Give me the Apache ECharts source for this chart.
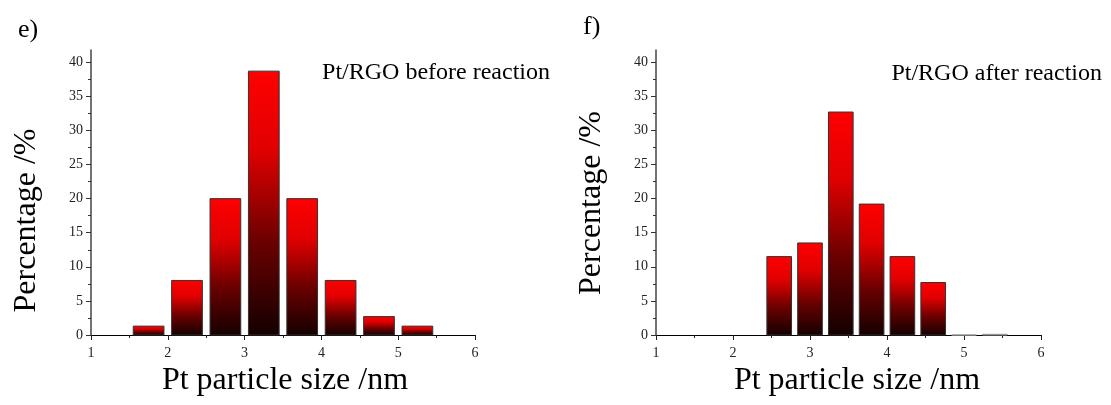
<!DOCTYPE html>
<html><head><meta charset="utf-8">
<script src="https://cdn.jsdelivr.net/npm/echarts@6/dist/echarts.min.js"></script>
<style>html,body{margin:0;padding:0;background:#fff}#c{width:1111px;height:405px}</style>
</head><body><div id="c"></div>
<script>
// ---- data ----
const binCentersBefore = [1.75, 2.25, 2.75, 3.25, 3.75, 4.25, 4.75, 5.25];
const percentBefore    = [1.3, 8, 20, 38.7, 20, 8, 2.7, 1.3];
const binWidthBefore   = 0.5;
const binCentersAfter  = [2.6, 3.0, 3.4, 3.8, 4.2, 4.6, 5.0, 5.4];
const percentAfter     = [11.5, 13.5, 32.7, 19.2, 11.5, 7.7, 0, 0.1];
const binWidthAfter    = 0.4;
const xTickValues      = [1, 2, 3, 4, 5, 6];
const yMajorTicks      = [0, 5, 10, 15, 20, 25, 30, 35, 40];
const yMinorTicks      = [2.5, 7.5, 12.5, 17.5, 22.5, 27.5, 32.5, 37.5];
const panelLabels      = ['e)', 'f)'];
const sampleLabels     = ['Pt/RGO before reaction', 'Pt/RGO after reaction'];
const xTitle           = 'Pt particle size /nm';
const yTitle           = 'Percentage /%';

const FONT = '"Liberation Serif", "Times New Roman", serif';
const chart = echarts.init(document.getElementById('c'), null, {renderer: 'canvas'});

function renderBar(binW) {
  return function (params, api) {
    const x = api.value(0), y = api.value(1);
    const top = api.coord([x, y]);
    const base = api.coord([x, 0]);
    const w = api.size([binW * 0.8, 0])[0];
    return {
      type: 'rect',
      shape: {x: top[0] - w / 2, y: top[1], width: w, height: base[1] - top[1]},
      style: {
        fill: new echarts.graphic.LinearGradient(0, 0, 0, 1, [
          {offset: 0, color: '#ff0000'},
          {offset: 0.3, color: '#e00000'},
          {offset: 0.65, color: '#6a0000'},
          {offset: 1, color: '#140000'}
        ]),
        stroke: y < 0.5 ? '#999' : '#333',
        lineWidth: 1
      }
    };
  };
}

const grids = [
  {left: 91, width: 384, top: 50, height: 285},
  {left: 656, width: 385, top: 50, height: 285}
];

function xAxisFor(i) {
  return {
    type: 'value', gridIndex: i, min: xTickValues[0], max: xTickValues[xTickValues.length - 1], interval: 1,
    name: xTitle, nameLocation: 'middle', nameGap: i === 0 ? 26 : 29,
    nameTextStyle: {fontFamily: FONT, fontSize: 32, color: '#000', padding: i === 0 ? [0, 0, 0, 4] : [0, 0, 0, 17]},
    axisLine: {show: true, onZero: false, lineStyle: {color: '#000', width: 1.2}},
    axisTick: {show: true, length: 5, lineStyle: {color: '#222'}},
    minorTick: {show: true, splitNumber: 2, length: 3, lineStyle: {color: '#222'}},
    axisLabel: {fontFamily: FONT, fontSize: 14, color: '#222', margin: 11},
    splitLine: {show: false}
  };
}
function yAxisMajor(i) {
  return {
    type: 'value', gridIndex: i, min: 0, max: 41.8, interval: 5,
    name: yTitle, nameLocation: 'middle', nameGap: 48,
    nameTextStyle: {fontFamily: FONT, fontSize: 32, color: '#000',
      padding: i === 0 ? [0, 56, 0, 0] : [0, 21, 0, 0]},
    axisLine: {show: true, lineStyle: {color: '#444', width: 1.5}},
    axisTick: {show: true, length: 5, customValues: yMajorTicks, lineStyle: {color: '#333'}},
    axisLabel: {fontFamily: FONT, fontSize: 14, color: '#222', margin: 8, customValues: yMajorTicks},
    splitLine: {show: false}
  };
}
function yAxisMinor(i) {
  return {
    type: 'value', gridIndex: i, min: 0, max: 41.8, position: 'left',
    axisLine: {show: false},
    axisTick: {show: true, length: 3, customValues: yMinorTicks, lineStyle: {color: '#333'}},
    axisLabel: {show: false},
    splitLine: {show: false}
  };
}

const option = {
  backgroundColor: '#fff',
  animation: false,
  grid: grids,
  xAxis: [xAxisFor(0), xAxisFor(1)],
  yAxis: [yAxisMajor(0), yAxisMinor(0), yAxisMajor(1), yAxisMinor(1)],
  series: [
    {type: 'custom', xAxisIndex: 0, yAxisIndex: 0, renderItem: renderBar(binWidthBefore),
     data: binCentersBefore.map((c, k) => [c, percentBefore[k]])},
    {type: 'custom', xAxisIndex: 1, yAxisIndex: 2, renderItem: renderBar(binWidthAfter),
     data: binCentersAfter.map((c, k) => [c, percentAfter[k]])}
  ],
  graphic: [
    {type: 'text', x: 18, y: 17, style: {text: panelLabels[0], font: '26px ' + FONT, fill: '#000'}},
    {type: 'text', x: 583, y: 14, style: {text: panelLabels[1], font: '26px ' + FONT, fill: '#000'}},
    {type: 'text', x: 550, y: 61, style: {text: sampleLabels[0], font: '24px ' + FONT, fill: '#000', align: 'right'}},
    {type: 'text', x: 1102, y: 62, style: {text: sampleLabels[1], font: '24px ' + FONT, fill: '#000', align: 'right'}}
  ]
};
chart.setOption(option);
</script>
</body></html>
